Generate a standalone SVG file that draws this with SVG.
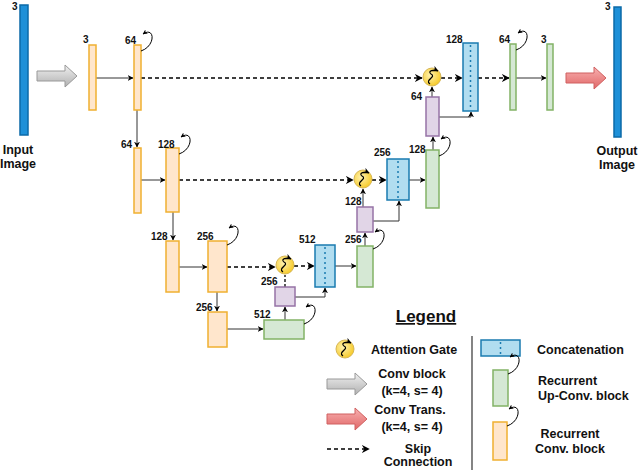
<svg xmlns="http://www.w3.org/2000/svg" width="640" height="470" viewBox="0 0 640 470">
<defs>
<marker id="ah" viewBox="0 0 10 10" refX="9" refY="5" markerWidth="6" markerHeight="6" orient="auto"><path d="M0,0 L10,5 L0,10 L3,5 Z" fill="#000"/></marker>
<marker id="sh" viewBox="0 0 10 10" refX="9" refY="5" markerWidth="5" markerHeight="5" orient="auto"><path d="M0,0 L10,5 L0,10 L3,5 Z" fill="#000"/></marker>
<radialGradient id="gg" cx="0.4" cy="0.4" r="0.7"><stop offset="0" stop-color="#fff2b0"/><stop offset="1" stop-color="#f5c518"/></radialGradient>
<linearGradient id="grayg" x1="0" y1="0" x2="0" y2="1"><stop offset="0" stop-color="#f0f0f0"/><stop offset="1" stop-color="#b0b0b0"/></linearGradient>
<linearGradient id="redg" x1="0" y1="0" x2="0" y2="1"><stop offset="0" stop-color="#f8b0b0"/><stop offset="1" stop-color="#e06666"/></linearGradient>
<path id="loop" d="M0,10 C15,5 14,-15 2,-7" fill="none" stroke="#000" stroke-width="1" marker-end="url(#sh)"/>
<g id="gate"><circle r="9" fill="url(#gg)" stroke="#d6b656"/><path d="M-2,7 C-8,3 5,0 -1,-3 C-5,-6 2,-8 6,-6" fill="none" stroke="#000" stroke-width="1.2" marker-end="url(#sh)"/></g>
<path id="garrow" d="M0,-5 L28,-5 L28,-11 L40,0 L28,11 L28,5 L0,5 Z"/>
</defs>
<style>
.o{fill:#ffe6cc;stroke:#f0b030;stroke-width:1.5}
.g{fill:#d5e8d4;stroke:#82b366;stroke-width:1.5}
.p{fill:#e1d5e7;stroke:#9673a6;stroke-width:1.5}
.c{fill:#b1ddf0;stroke:#1a7bb0;stroke-width:1.5}
.cd{stroke:#1a7bb0;stroke-width:1.5;stroke-dasharray:2,3}
.b{fill:#1e90d8;stroke:#0b6aa8;stroke-width:1.5}
.l{stroke:#333;stroke-width:1;fill:none;marker-end:url(#ah)}
.d{stroke:#000;stroke-width:1.3;stroke-dasharray:4,3;fill:none;marker-end:url(#ah)}
text{font-family:"Liberation Sans",Arial,sans-serif;font-weight:bold;fill:#111}
.s{font-size:10px}
.m{font-size:12.5px}
</style>

<g id="connectors">
<line class="l" x1="96" y1="78" x2="133" y2="78"/>
<line class="d" x1="141" y1="78" x2="422" y2="78"/>
<line class="l" x1="137" y1="110" x2="137" y2="147"/>
<line class="l" x1="141" y1="180" x2="165" y2="180"/>
<line class="d" x1="179" y1="180" x2="353" y2="180"/>
<line class="l" x1="173" y1="212" x2="173" y2="240"/>
<line class="l" x1="179" y1="267" x2="207" y2="267"/>
<line class="d" x1="227" y1="267" x2="275" y2="267"/>
<line class="d" x1="294" y1="266" x2="314" y2="266"/>
<line class="l" x1="217" y1="292" x2="217" y2="311"/>
<line class="l" x1="227" y1="329" x2="263" y2="329"/>
<line class="l" x1="285" y1="320" x2="285" y2="307"/>
<line x1="285" y1="287" x2="285" y2="275" stroke="#000" stroke-width="1.3" stroke-dasharray="3,2"/>
<polyline class="l" points="295,297 325,297 325,288"/>
<line class="l" x1="335" y1="266" x2="356" y2="266"/>
<line class="l" x1="365" y1="246" x2="365" y2="233"/>
<line class="l" x1="363" y1="207" x2="363" y2="189"/>
<polyline class="l" points="373,221 399,221 399,201"/>
<line class="d" x1="372" y1="180" x2="386" y2="180"/>
<line class="l" x1="409" y1="180" x2="425" y2="180"/>
<line class="l" x1="433" y1="150" x2="433" y2="137"/>
<line class="l" x1="432" y1="97" x2="432" y2="87"/>
<polyline class="l" points="439,117 471,117 471,112"/>
<line class="d" x1="441" y1="78" x2="462" y2="78"/>
<line class="d" x1="478" y1="78" x2="509" y2="78"/>
<line class="l" x1="516" y1="78" x2="546" y2="78"/>
</g>

<g id="input"><rect class="b" x="20" y="5" width="8" height="130"/><text class="s" x="12" y="10">3</text><text class="m" x="18" y="154" text-anchor="middle">Input</text><text class="m" x="18" y="168" text-anchor="middle">Image</text></g>
<g id="convarrow"><use href="#garrow" x="37" y="76" fill="url(#grayg)" stroke="#999"/></g>
<g id="e1a"><rect class="o" x="89" y="45" width="7" height="65"/><text class="s" x="83" y="43">3</text></g>
<g id="e1b"><rect class="o" x="134" y="45" width="7" height="65"/><text class="s" x="125" y="44">64</text><use href="#loop" x="141" y="41"/></g>
<g id="e2a"><rect class="o" x="134" y="148" width="7" height="65"/><text class="s" x="121" y="148">64</text></g>
<g id="e2b"><rect class="o" x="166" y="148" width="13" height="64"/><text class="s" x="158" y="148">128</text><use href="#loop" x="179" y="144"/></g>
<g id="e3a"><rect class="o" x="166" y="241" width="13" height="51"/><text class="s" x="151" y="240">128</text></g>
<g id="e3b"><rect class="o" x="208" y="241" width="19" height="51"/><text class="s" x="197" y="240">256</text><use href="#loop" x="227" y="235"/></g>
<g id="e4a"><rect class="o" x="208" y="312" width="19" height="35"/><text class="s" x="196" y="311">256</text></g>
<g id="bottleneck"><rect class="g" x="264" y="320" width="40" height="19"/><text class="s" x="254" y="318">512</text><use href="#loop" x="304" y="314"/></g>
<g id="att1"><use href="#gate" x="285" y="265"/></g>
<g id="pu1"><rect class="p" x="275" y="287" width="20" height="19"/><text class="s" x="261" y="285">256</text></g>
<g id="cat1"><rect class="c" x="315" y="245" width="20" height="42"/><line class="cd" x1="325" y1="247" x2="325" y2="285"/><text class="s" x="299" y="243">512</text></g>
<g id="d3"><rect class="g" x="357" y="246" width="16" height="41"/><text class="s" x="345" y="243">256</text><use href="#loop" x="373" y="239"/></g>
<g id="pu2"><rect class="p" x="357" y="207" width="16" height="25"/><text class="s" x="345" y="205">128</text></g>
<g id="att2"><use href="#gate" x="363" y="179"/></g>
<g id="cat2"><rect class="c" x="387" y="159" width="22" height="41"/><line class="cd" x1="398" y1="161" x2="398" y2="198"/><text class="s" x="374" y="156">256</text></g>
<g id="d2"><rect class="g" x="426" y="150" width="13" height="58"/><text class="s" x="409" y="153">128</text><use href="#loop" x="439" y="146"/></g>
<g id="pu3"><rect class="p" x="426" y="97" width="13" height="39"/><text class="s" x="411" y="100">64</text></g>
<g id="att3"><use href="#gate" x="432" y="77"/></g>
<g id="cat3"><rect class="c" x="463" y="43" width="15" height="68"/><line class="cd" x1="470.5" y1="45" x2="470.5" y2="109"/><text class="s" x="446" y="43">128</text></g>
<g id="d1a"><rect class="g" x="510" y="44" width="6" height="66"/><text class="s" x="499" y="43">64</text><use href="#loop" x="516" y="40"/></g>
<g id="d1b"><rect class="g" x="547" y="44" width="6" height="66"/><text class="s" x="541" y="43">3</text></g>
<g id="transarrow"><use href="#garrow" x="566" y="78" fill="url(#redg)" stroke="#d06060"/></g>
<g id="output"><rect class="b" x="614" y="7" width="7" height="130"/><text class="s" x="605" y="10">3</text><text class="m" x="617" y="155" text-anchor="middle">Output</text><text class="m" x="617" y="169" text-anchor="middle">Image</text></g>

<g id="legend">
<text x="426" y="322" font-size="17" text-anchor="middle" text-decoration="underline">Legend</text>
<line x1="472" y1="336" x2="472" y2="470" stroke="#333" stroke-width="1.2"/>
<use href="#gate" x="345" y="349"/>
<text class="m" x="371" y="354">Attention Gate</text>
<use href="#garrow" x="327" y="384" fill="url(#grayg)" stroke="#999"/>
<text class="m" x="412" y="378" text-anchor="middle">Conv block</text>
<text class="m" x="412" y="395" text-anchor="middle">(k=4, s= 4)</text>
<use href="#garrow" x="327" y="419" fill="url(#redg)" stroke="#d06060"/>
<text class="m" x="410" y="414" text-anchor="middle">Conv Trans.</text>
<text class="m" x="412" y="431" text-anchor="middle">(k=4, s= 4)</text>
<line class="d" x1="327" y1="449" x2="369" y2="449"/>
<text class="m" x="418" y="453" text-anchor="middle">Skip</text>
<text class="m" x="418" y="466" text-anchor="middle">Connection</text>
<rect class="c" x="481" y="340" width="39" height="16"/><line class="cd" x1="500.5" y1="342" x2="500.5" y2="354"/>
<text class="m" x="537" y="354">Concatenation</text>
<rect class="g" x="493" y="370" width="15" height="36"/><use href="#loop" x="508" y="364"/>
<text class="m" x="538" y="385">Recurrent</text>
<text class="m" x="538" y="400">Up-Conv. block</text>
<rect class="o" x="493" y="422" width="14" height="38"/><use href="#loop" x="507" y="416"/>
<text class="m" x="570" y="438" text-anchor="middle">Recurrent</text>
<text class="m" x="570" y="453" text-anchor="middle">Conv. block</text>
</g>
</svg>
